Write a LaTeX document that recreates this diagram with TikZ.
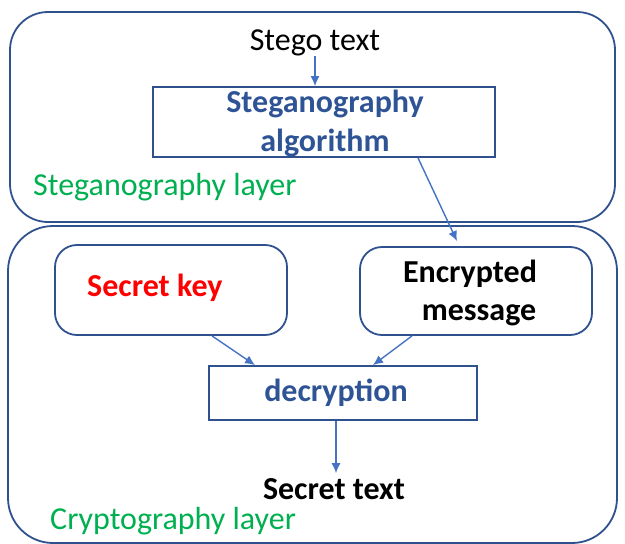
\documentclass[tikz,border=0pt]{standalone}
\usepackage{fontspec}
\setmainfont{Carlito}
\usetikzlibrary{arrows.meta}
\definecolor{arrowblue}{RGB}{68,114,196}
\definecolor{frameblue}{RGB}{47,82,143}
\definecolor{textblue}{RGB}{47,84,150}
\definecolor{layergreen}{RGB}{0,176,80}
\tikzset{
  every node/.style={font=\fontsize{32}{38}\selectfont, inner sep=0pt},
  container/.style={draw=frameblue, line width=1.8pt, rounded corners=38pt},
  procbox/.style={draw=frameblue, line width=1.8pt},
  itembox/.style={draw=frameblue, line width=1.8pt, rounded corners=22pt},
  flow/.style={draw=arrowblue, line width=1.4pt, -{Latex[length=10pt,width=9pt]}},
  boldtext/.style={font=\fontsize{32}{38}\selectfont\bfseries},
  layerlabel/.style={text=layergreen, anchor=west},
}
\begin{document}
\begin{tikzpicture}[x=1pt,y=-1pt]
\useasboundingbox (0,0) rectangle (625,544);
% containers
\draw[container] (10,12) rectangle (615,222);
\draw[container, rounded corners=45pt] (8,226) rectangle (617,543);
% top layer
\node (stego) at (315,43) {Stego text};
\node[procbox, minimum width=342pt, minimum height=70pt] (algo) at (324,122) {};
\node[boldtext, text=textblue] (algo1) at (325,104) {Steganography};
\node[boldtext, text=textblue] (algo2) at (325,143) {algorithm};
\node[layerlabel] (steglayer) at (33,187) {Steganography layer};
% bottom layer
\node[itembox, minimum width=232pt, minimum height=90pt] (key) at (171,290) {};
\node[boldtext, text=red, anchor=west] (keytxt) at (87,288) {Secret key};
\node[itembox, minimum width=232pt, minimum height=88pt] (enc) at (476,291) {};
\node[boldtext] (enc1) at (470,274) {Encrypted};
\node[boldtext] (enc2) at (479,315) {message};
\node[procbox, minimum width=268pt, minimum height=54pt] (dec) at (343,393) {};
\node[boldtext, text=textblue] (dectxt) at (336,393) {decryption};
\node[boldtext] (secret) at (334,489) {Secret text};
\node[layerlabel] (cryptlayer) at (50,521) {Cryptography layer};
% connectors
\draw[flow] (stego.south) -- (stego.south |- algo.north);
\draw[flow] ([xshift=94pt]algo.south) -- ([xshift=-19pt,yshift=5pt]enc.north);
\draw[flow] ([xshift=41pt]key.south) -- ([xshift=-88pt]dec.north);
\draw[flow] ([xshift=-64pt]enc.south) -- ([xshift=30pt]dec.north);
\draw[flow] (dec.south -| dectxt) -- ([yshift=5pt]secret.north -| dectxt);
\end{tikzpicture}
\end{document}
